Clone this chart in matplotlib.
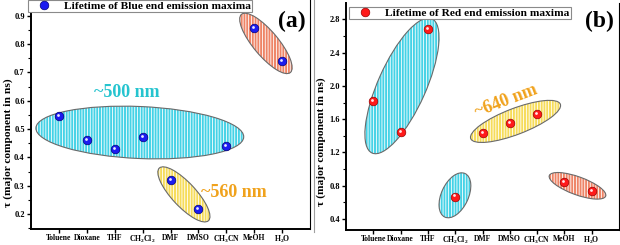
import matplotlib
matplotlib.use('Agg')
import matplotlib.pyplot as plt
import matplotlib.transforms as mtransforms
from matplotlib.patches import Ellipse
from matplotlib.lines import Line2D
import numpy as np

plt.rcParams['font.family'] = ['Liberation Serif', 'DejaVu Serif']
plt.rcParams['font.weight'] = 'bold'
plt.rcParams['mathtext.fontset'] = 'custom'
plt.rcParams['mathtext.rm'] = 'Liberation Serif:bold'
plt.rcParams['mathtext.bf'] = 'Liberation Serif:bold'
plt.rcParams['mathtext.default'] = 'bf'
plt.rcParams['hatch.linewidth'] = 0.6

solvents = ['Toluene', 'Dioxane', 'THF', r'CH$_2$Cl$_2$', 'DMF', 'DMSO',
            r'CH$_3$CN', 'MeOH', r'H$_2$O']
tau_blue = [0.545, 0.46, 0.43, 0.472, 0.32, 0.217, 0.44, 0.857, 0.74]
tau_red = [1.82, 1.45, 2.68, 0.67, 1.43, 1.55, 1.66, 0.84, 0.74]

CYAN = '#45d2e6'
YELLOW = '#f6dc5a'
SALMON = '#ee8466'
TXT_CYAN = '#26c4cf'
TXT_ORANGE = '#f0a21c'

# ellipse groups: centre (x index, tau), width/height in pixels, angle
blue_groups = [((3.9, 0.488), 208, 52, -2.5, CYAN),
               ((5.48, 0.27), 72, 24, -47, YELLOW),
               ((8.42, 0.802), 76, 25, -50, SALMON)]
red_groups = [((2.05, 2.0), 147, 48, 66, CYAN),
              ((3.99, 0.685), 48, 27, 65, CYAN),
              ((6.21, 1.573), 96, 26, 21, YELLOW),
              ((8.48, 0.799), 60, 18, -20, SALMON)]

fig = plt.figure(figsize=(6.2, 2.45), dpi=100)
axA = fig.add_axes([31/620, 16/245, 279/620, 229/245])
axB = fig.add_axes([346/620, 15/245, 273/620, 227/245])


def draw_groups(ax, groups):
    for (xc, yc), w, h, ang, col in groups:
        tr = fig.dpi_scale_trans + mtransforms.ScaledTranslation(xc, yc, ax.transData)
        fill = Ellipse((0, 0), w/100, h/100, angle=ang, transform=tr,
                       facecolor=col, edgecolor='white', lw=0, hatch='||||||', zorder=1)
        ax.add_patch(fill)
        edge = Ellipse((0, 0), w/100, h/100, angle=ang, transform=tr,
                       facecolor='none', edgecolor='#6a6a6a', lw=0.8, zorder=2)
        ax.add_patch(edge)


def spheres(ax, y, col, dark, label):
    x = np.arange(1, len(y) + 1)
    ax.plot(x, y, 'o', ms=6.2, color=col, mec=dark, mew=0.5, zorder=4, label=label)
    hl = mtransforms.offset_copy(ax.transData, fig=fig, x=-1.0, y=1.1, units='dots')
    ax.plot(x, y, 'o', ms=2.0, color='white', mew=0, alpha=0.9, transform=hl, zorder=5)


def style(ax, ylim, major, minor, label_xy):
    ax.set_xlim(0, 10)
    ax.set_ylim(*ylim)
    ax.set_xticks(np.arange(1, 10))
    ax.set_xticklabels(solvents)
    ax.yaxis.set_major_locator(plt.MultipleLocator(major))
    ax.yaxis.set_minor_locator(plt.MultipleLocator(minor))
    ax.spines['top'].set_visible(False)
    ax.spines['left'].set_linewidth(1.4)
    ax.spines['bottom'].set_linewidth(1.4)
    ax.spines['right'].set_linewidth(0.8)
    ax.tick_params(axis='both', which='major', direction='out', length=3, width=1,
                   labelsize=6, pad=1.5)
    ax.tick_params(axis='x', labelsize=5.5, pad=0.3)
    ax.tick_params(axis='y', which='minor', direction='out', length=2, width=0.8)
    ax.tick_params(axis='y', right=False)
    ax.set_ylabel(r'τ (major component in ns)', fontsize=8.2, fontweight='bold')
    ax.yaxis.set_label_coords(*label_xy)
    for t in ax.get_xticklabels() + ax.get_yticklabels():
        t.set_fontweight('bold')


def legend(ax, anchor):
    leg = ax.legend(loc='upper left', bbox_to_anchor=anchor, fontsize=8.2,
                    frameon=True, fancybox=False, edgecolor='#8a8a8a', framealpha=1,
                    borderpad=0.1, handletextpad=0.5, handlelength=2.6, borderaxespad=0)
    leg.get_frame().set_linewidth(0.8)
    leg.set_zorder(10)
    return leg


draw_groups(axA, blue_groups)
spheres(axA, tau_blue, '#1c1cf0', '#00007a', 'Lifetime of Blue end emission maxima')
style(axA, (0.148, 0.955), 0.1, 0.05, (-0.063, 0.375))
axA.yaxis.set_major_formatter(plt.FormatStrFormatter('%.1f'))
axA.text(3.44, 0.628, '~500 nm', color=TXT_CYAN, fontsize=13, fontweight='bold',
         ha='center', va='center')
axA.text(7.28, 0.276, '~560 nm', color=TXT_ORANGE, fontsize=13, fontweight='bold',
         ha='center', va='center')
axA.text(9.35, 0.878, '(a)', color='black', fontsize=17, fontweight='bold',
         ha='center', va='center')
legend(axA, (-0.012, 1.0))

draw_groups(axB, red_groups)
spheres(axB, tau_red, '#ff1a1a', '#9a0000', 'Lifetime of Red end emission maxima')
style(axB, (0.268, 2.996), 0.4, 0.2, (-0.075, 0.39))
axB.text(5.86, 1.813, '~640 nm', color=TXT_ORANGE, fontsize=13, fontweight='bold',
         ha='center', va='center', rotation=21)
axB.text(9.30, 2.78, '(b)', color='black', fontsize=17, fontweight='bold',
         ha='center', va='center')
legend(axB, (0.01, 0.983))

# thin separator between the two panels
fig.add_artist(Line2D([313.5/620, 313.5/620], [13/245, 1], color='#a0a0a0', lw=0.8))

fig.savefig('out.png', dpi=100)
